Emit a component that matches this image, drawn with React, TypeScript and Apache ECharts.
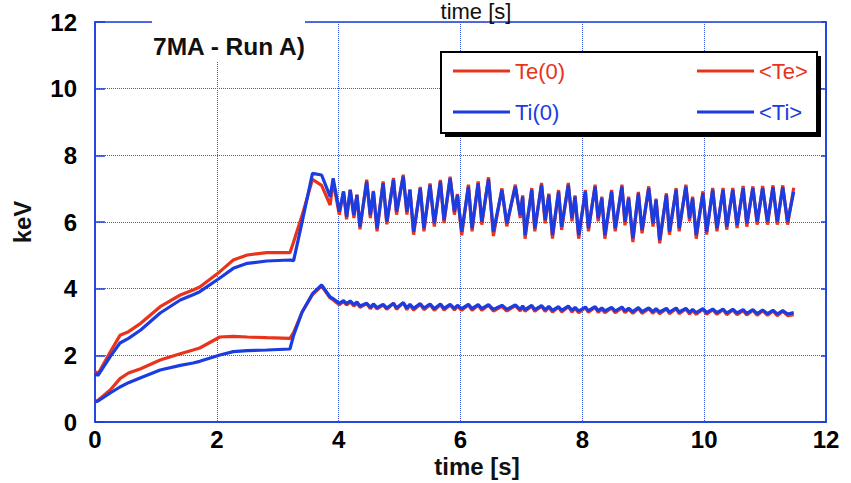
import React, { useEffect, useRef } from "react";
import * as echarts from "echarts";

const time = [
  0, 0.05, 0.25, 0.41, 0.55, 0.75, 1.07, 1.4, 1.61, 1.72,
  2.05, 2.27, 2.5, 2.82, 3.2, 3.26, 3.4, 3.57, 3.72, 3.86,
  3.91, 4.01, 4.08, 4.13, 4.19, 4.25, 4.3, 4.35, 4.46, 4.52,
  4.57, 4.63, 4.73, 4.79, 4.9, 4.95, 5.06, 5.12, 5.17, 5.23,
  5.34, 5.4, 5.5, 5.57, 5.67, 5.73, 5.83, 5.9, 5.95, 6.02,
  6.13, 6.19, 6.29, 6.35, 6.46, 6.54, 6.68, 6.76, 6.9, 6.98,
  7.02, 7.06, 7.17, 7.22, 7.33, 7.39, 7.45, 7.51, 7.61, 7.66,
  7.77, 7.83, 7.88, 7.94, 8.05, 8.1, 8.21, 8.26, 8.32, 8.37,
  8.48, 8.54, 8.65, 8.7, 8.76, 8.83, 8.92, 8.98, 9.09, 9.16,
  9.21, 9.27, 9.38, 9.43, 9.54, 9.59, 9.7, 9.76, 9.81, 9.87,
  9.98, 10.04, 10.14, 10.21, 10.31, 10.37, 10.47, 10.54, 10.64, 10.7,
  10.8, 10.87, 10.96, 11.04, 11.13, 11.2, 11.29, 11.37, 11.47,
];

const te0 = [
  1.51, 1.45, 2.1, 2.6, 2.71, 2.96, 3.46, 3.81, 3.96, 4.05,
  4.51, 4.86, 5.01, 5.08, 5.08, 5.4, 6.2, 7.28, 7.1, 6.51,
  7.22, 6.22, 6.92, 6.08, 6.97, 6.12, 6.82, 5.78, 7.27, 6.12,
  6.93, 5.72, 7.22, 5.93, 7.32, 6.22, 7.42, 6.22, 6.98, 5.62,
  7.05, 5.72, 7.16, 5.86, 7.26, 5.97, 7.36, 6.22, 6.84, 5.6,
  7.12, 5.72, 7.22, 5.92, 7.34, 5.58, 7.01, 5.87, 7.12, 6.12,
  6.8, 5.5, 7.02, 5.72, 7.17, 5.96, 6.85, 5.5, 6.96, 5.76,
  7.17, 6.02, 6.8, 5.5, 6.96, 5.72, 7.12, 6.02, 6.76, 5.5,
  6.96, 5.72, 7.12, 5.9, 6.76, 5.4, 6.9, 5.66, 7.07, 5.86,
  6.7, 5.36, 6.86, 5.62, 7.02, 5.72, 7.12, 6.02, 6.76, 5.5,
  6.92, 5.62, 7.02, 5.72, 7.02, 5.77, 7.02, 5.82, 7.08, 5.86,
  7.07, 5.92, 7.08, 5.92, 7.1, 5.92, 7.1, 5.92, 7.03,
];

const ti0 = [
  1.45, 1.4, 1.96, 2.37, 2.51, 2.76, 3.27, 3.66, 3.82, 3.91,
  4.32, 4.61, 4.76, 4.83, 4.86, 4.84, 6.0, 7.46, 7.41, 6.76,
  7.31, 6.31, 6.91, 6.16, 6.96, 6.21, 6.81, 5.86, 7.21, 6.21,
  6.91, 5.81, 7.16, 6.01, 7.26, 6.31, 7.36, 6.31, 6.96, 5.71,
  7.01, 5.81, 7.11, 5.96, 7.21, 6.06, 7.31, 6.31, 6.81, 5.71,
  7.06, 5.81, 7.16, 6.01, 7.28, 5.71, 6.96, 5.96, 7.06, 6.21,
  6.76, 5.61, 6.96, 5.81, 7.11, 6.06, 6.81, 5.61, 6.91, 5.86,
  7.11, 6.11, 6.76, 5.61, 6.91, 5.81, 7.06, 6.11, 6.71, 5.61,
  6.91, 5.81, 7.06, 6.01, 6.71, 5.51, 6.86, 5.76, 7.01, 5.96,
  6.66, 5.46, 6.81, 5.71, 6.96, 5.81, 7.06, 6.11, 6.71, 5.61,
  6.86, 5.71, 6.96, 5.81, 6.96, 5.86, 6.96, 5.91, 7.01, 5.96,
  7.01, 6.01, 7.01, 6.01, 7.04, 6.01, 7.04, 6.01, 6.9,
];

const teAvg = [
  0.61, 0.65, 0.96, 1.3, 1.47, 1.6, 1.86, 2.05, 2.16, 2.22,
  2.55, 2.57, 2.55, 2.53, 2.51, 2.68, 3.3, 3.82, 4.08, 3.72,
  3.66, 3.52, 3.61, 3.51, 3.6, 3.48, 3.57, 3.44, 3.55, 3.4,
  3.52, 3.39, 3.51, 3.38, 3.56, 3.38, 3.58, 3.37, 3.51, 3.36,
  3.53, 3.37, 3.52, 3.35, 3.52, 3.36, 3.51, 3.36, 3.47, 3.35,
  3.51, 3.35, 3.5, 3.35, 3.5, 3.33, 3.47, 3.33, 3.49, 3.33,
  3.45, 3.32, 3.48, 3.32, 3.47, 3.32, 3.44, 3.3, 3.44, 3.3,
  3.46, 3.3, 3.41, 3.28, 3.43, 3.29, 3.44, 3.29, 3.39, 3.28,
  3.42, 3.28, 3.43, 3.28, 3.38, 3.26, 3.41, 3.26, 3.4, 3.26,
  3.37, 3.25, 3.39, 3.25, 3.4, 3.25, 3.39, 3.24, 3.35, 3.23,
  3.38, 3.23, 3.37, 3.23, 3.37, 3.22, 3.36, 3.22, 3.34, 3.21,
  3.35, 3.2, 3.34, 3.2, 3.33, 3.19, 3.32, 3.19, 3.22,
];

const tiAvg = [
  0.6, 0.63, 0.87, 1.05, 1.18, 1.33, 1.56, 1.7, 1.77, 1.82,
  2.01, 2.11, 2.14, 2.16, 2.19, 2.6, 3.3, 3.85, 4.11, 3.75,
  3.7, 3.56, 3.64, 3.55, 3.63, 3.52, 3.6, 3.48, 3.56, 3.44,
  3.54, 3.43, 3.53, 3.42, 3.56, 3.43, 3.58, 3.42, 3.53, 3.41,
  3.55, 3.42, 3.54, 3.4, 3.54, 3.41, 3.53, 3.41, 3.5, 3.4,
  3.53, 3.4, 3.52, 3.4, 3.52, 3.38, 3.5, 3.38, 3.51, 3.38,
  3.48, 3.37, 3.5, 3.37, 3.49, 3.37, 3.47, 3.35, 3.46, 3.35,
  3.48, 3.35, 3.44, 3.33, 3.45, 3.34, 3.46, 3.34, 3.42, 3.33,
  3.44, 3.33, 3.45, 3.33, 3.41, 3.31, 3.43, 3.31, 3.42, 3.31,
  3.4, 3.3, 3.41, 3.3, 3.42, 3.3, 3.41, 3.29, 3.38, 3.28,
  3.4, 3.28, 3.39, 3.28, 3.39, 3.27, 3.38, 3.27, 3.37, 3.26,
  3.37, 3.25, 3.36, 3.25, 3.35, 3.24, 3.34, 3.24, 3.28,
];

const RED = "#e8341c";
const BLUE = "#1a3ce0";
const GRID = "#3a5ae6";
const FONT = "'Liberation Sans', Arial, Helvetica, sans-serif";

export default function App() {
  const ref = useRef<HTMLDivElement>(null);
  useEffect(() => {
    if (!ref.current) return;
    const chart = echarts.init(ref.current, undefined, { renderer: "svg" });
    const pair = (vals: number[]) => time.map((t, i) => [t, vals[i]]);
    const lineSeries = (name: string, vals: number[], color: string, z: number) => ({
      name,
      type: "line",
      data: pair(vals),
      showSymbol: false,
      symbol: "none",
      smooth: false,
      z,
      lineStyle: { color, width: 3.2 },
      itemStyle: { color },
    });
    const legendBase = {
      orient: "vertical",
      top: 60,
      itemWidth: 57,
      itemHeight: 3,
      itemGap: 19,
      icon: "rect",
      padding: 0,
      selectedMode: false,
      z: 100,
      textStyle: { fontSize: 22, fontFamily: FONT, lineHeight: 22 },
    };
    const option: any = {
      animation: false,
      backgroundColor: "#ffffff",
      grid: {
        left: 95,
        right: 25,
        top: 22,
        bottom: 61,
        show: true,
        borderColor: BLUE,
        borderWidth: 1.5,
      },
      xAxis: {
        type: "value",
        min: 0,
        max: 12,
        interval: 2,
        axisLine: { show: true, onZero: false, lineStyle: { color: BLUE, width: 1.5 } },
        axisTick: { show: false },
        axisLabel: {
          color: "#000",
          fontWeight: "bold",
          fontSize: 24,
          fontFamily: FONT,
          margin: 5,
        },
        splitLine: { show: true, lineStyle: { color: GRID, type: "dotted", width: 1 } },
      },
      yAxis: [
        {
          type: "value",
          min: 0,
          max: 12,
          interval: 2,
          position: "left",
          axisLine: { show: true, onZero: false, lineStyle: { color: BLUE, width: 1.5 } },
          axisTick: { show: true, inside: true, length: 10, lineStyle: { color: BLUE, width: 1.5 } },
          axisLabel: {
            color: "#000",
            fontWeight: "bold",
            fontSize: 24,
            fontFamily: FONT,
            margin: 18,
          },
          splitLine: { show: true, lineStyle: { color: GRID, type: "dotted", width: 1 } },
        },
        {
          type: "value",
          min: 0,
          max: 12,
          interval: 2,
          position: "right",
          axisLine: { show: true, onZero: false, lineStyle: { color: BLUE, width: 1.5 } },
          axisTick: { show: true, inside: true, length: 5, lineStyle: { color: BLUE, width: 1.5 } },
          axisLabel: { show: false },
          splitLine: { show: false },
        },
      ],
      legend: [
        {
          ...legendBase,
          left: 453,
          data: [
            { name: "Te(0)", textStyle: { color: RED } },
            { name: "Ti(0)", textStyle: { color: BLUE } },
          ],
        },
        {
          ...legendBase,
          left: 697,
          data: [
            { name: "<Te>", textStyle: { color: RED } },
            { name: "<Ti>", textStyle: { color: BLUE } },
          ],
        },
      ],
      series: [
        lineSeries("Te(0)", te0, RED, 2),
        lineSeries("<Te>", teAvg, RED, 2),
        lineSeries("Ti(0)", ti0, BLUE, 3),
        lineSeries("<Ti>", tiAvg, BLUE, 3),
      ],
      graphic: [
        {
          type: "rect",
          z: 50,
          shape: { x: 152, y: 0, width: 153, height: 62 },
          style: { fill: "#ffffff" },
        },
        {
          type: "text",
          z: 51,
          x: 153,
          y: 46,
          style: {
            text: "7MA - Run A)",
            fill: "#111",
            font: `bold 24.5px ${FONT}`,
            verticalAlign: "middle",
          },
        },
        {
          type: "rect",
          z: 50,
          shape: { x: 445, y: 56, width: 376, height: 81 },
          style: { fill: "#000000" },
        },
        {
          type: "rect",
          z: 51,
          shape: { x: 441, y: 52, width: 376, height: 81 },
          style: { fill: "#ffffff", stroke: "#000000", lineWidth: 2 },
        },
        {
          type: "rect",
          z: 50,
          shape: { x: 430, y: 0, width: 92, height: 20 },
          style: { fill: "#ffffff" },
        },
        {
          type: "text",
          z: 51,
          x: 476,
          y: 11,
          style: {
            text: "time [s]",
            fill: "#111",
            font: `22px ${FONT}`,
            align: "center",
            verticalAlign: "middle",
          },
        },
        {
          type: "text",
          z: 51,
          x: 477,
          y: 466,
          style: {
            text: "time [s]",
            fill: "#111",
            font: `bold 24px ${FONT}`,
            align: "center",
            verticalAlign: "middle",
          },
        },
        {
          type: "text",
          z: 51,
          x: 22,
          y: 222,
          rotation: Math.PI / 2,
          style: {
            text: "keV",
            fill: "#111",
            font: `bold 24px ${FONT}`,
            align: "center",
            verticalAlign: "middle",
          },
        },
      ],
    };
    chart.setOption(option);
    return () => chart.dispose();
  }, []);
  return (
    <div
      ref={ref}
      style={{ position: "absolute", left: 0, top: 0, width: 851, height: 483 }}
    />
  );
}
